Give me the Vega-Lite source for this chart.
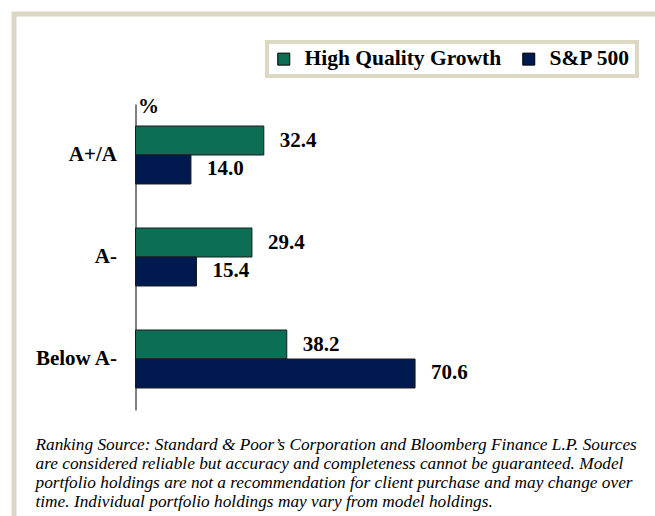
{
  "$schema": "https://vega.github.io/schema/vega-lite/v6.json",
  "width": 650,
  "height": 510,
  "autosize": {"type": "none"},
  "padding": {"left": 14, "top": 14, "right": 0, "bottom": 0},
  "background": "white",
  "data": {
    "values": [
      {"rating": "A+/A", "series": "High Quality Growth", "value": 32.4},
      {"rating": "A+/A", "series": "S&P 500", "value": 14.0},
      {"rating": "A-", "series": "High Quality Growth", "value": 29.4},
      {"rating": "A-", "series": "S&P 500", "value": 15.4},
      {"rating": "Below A-", "series": "High Quality Growth", "value": 38.2},
      {"rating": "Below A-", "series": "S&P 500", "value": 70.6}
    ]
  },
  "encoding": {
    "y": {
      "field": "rating",
      "type": "nominal",
      "sort": ["A+/A", "A-", "Below A-"],
      "scale": {"type": "band", "range": [90, 396], "paddingInner": 0.4314, "paddingOuter": 0.2157},
      "axis": {
        "orient": "left",
        "offset": -121.5,
        "ticks": false,
        "domainColor": "black",
        "domainWidth": 1,
        "labelPadding": 19,
        "labelFont": "Liberation Serif",
        "labelFontSize": 21,
        "labelFontWeight": "bold",
        "labelColor": "black",
        "grid": false,
        "title": "%",
        "titleAngle": 0,
        "titleX": 2,
        "titleY": 98,
        "titleAlign": "left",
        "titleBaseline": "alphabetic",
        "titleFont": "Liberation Serif",
        "titleFontSize": 21,
        "titleFontWeight": "bold",
        "titleColor": "black"
      }
    },
    "yOffset": {
      "field": "series",
      "type": "nominal",
      "sort": ["High Quality Growth", "S&P 500"],
      "scale": {"paddingInner": 0, "paddingOuter": 0}
    },
    "x": {
      "field": "value",
      "type": "quantitative",
      "scale": {"domain": [0, 80], "range": [121.5, 438.3], "nice": false, "zero": true},
      "axis": {
        "orient": "bottom",
        "domain": false,
        "ticks": false,
        "labels": false,
        "grid": false,
        "title": [
          "Ranking Source: Standard & Poor’s Corporation and Bloomberg Finance L.P. Sources",
          "are considered reliable but accuracy and completeness cannot be guaranteed. Model",
          "portfolio holdings are not a recommendation for client purchase and may change over",
          "time. Individual portfolio holdings may vary from model holdings."
        ],
        "titleX": 21,
        "titleY": -75,
        "titleAlign": "left",
        "titleAnchor": "start",
        "titleBaseline": "alphabetic",
        "titleFont": "Liberation Serif",
        "titleFontSize": 17.3,
        "titleFontStyle": "italic",
        "titleFontWeight": "normal",
        "titleLineHeight": 19.3,
        "titleLimit": 700,
        "titleColor": "black"
      }
    }
  },
  "layer": [
    {
      "mark": {"type": "bar", "stroke": "#1a1a1a", "strokeWidth": 1},
      "encoding": {
        "color": {
          "field": "series",
          "type": "nominal",
          "sort": ["High Quality Growth", "S&P 500"],
          "scale": {"domain": ["High Quality Growth", "S&P 500"], "range": ["#0b6e55", "#001a50"]},
          "legend": {
            "title": null,
            "orient": "none",
            "legendX": 253,
            "legendY": 28,
            "direction": "horizontal",
            "symbolType": "square",
            "symbolSize": 144,
            "symbolStrokeColor": "black",
            "symbolStrokeWidth": 1,
            "labelFont": "Liberation Serif",
            "labelFontSize": 21.5,
            "labelFontWeight": "bold",
            "labelColor": "black",
            "labelLimit": 400,
            "labelOffset": 10,
            "columnPadding": 16,
            "padding": 6,
            "strokeColor": "#dcd8c4"
          }
        }
      }
    },
    {
      "mark": {
        "type": "text",
        "align": "left",
        "baseline": "middle",
        "dx": 16,
        "font": "Liberation Serif",
        "fontSize": 21,
        "fontWeight": "bold",
        "color": "black"
      },
      "encoding": {
        "text": {"field": "value", "type": "quantitative", "format": ".1f"}
      }
    }
  ],
  "config": {
    "view": {"stroke": "#dcd8c4", "strokeWidth": 5, "fill": "white"},
    "legend": {"strokeWidth": 4}
  }
}
